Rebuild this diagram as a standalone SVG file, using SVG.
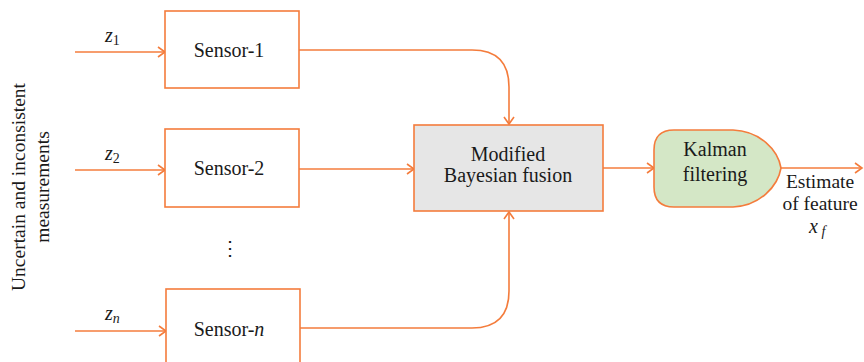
<svg xmlns="http://www.w3.org/2000/svg" width="864" height="362" viewBox="0 0 864 362">
<defs>
<style>
.box{fill:#ffffff;stroke:#f47c3c;stroke-width:1.6}
.fus{fill:#e6e6e6;stroke:#f47c3c;stroke-width:1.6}
.kal{fill:#d4e7c6;stroke:#f47c3c;stroke-width:1.6}
.ln{fill:none;stroke:#f47c3c;stroke-width:1.6}
text{font-family:"Liberation Serif","DejaVu Serif",serif;font-size:20px;fill:#1a1a1a}
.c{text-anchor:middle}
.it{font-style:italic}
.sub{font-size:14px}
.rot{font-size:19.5px}
.out{font-size:19.5px}
</style>
<marker id="ah" markerWidth="12" markerHeight="12" viewBox="0 0 12 12" refX="10" refY="6" orient="auto" markerUnits="userSpaceOnUse">
<path d="M3,1 L10,6 L3,11" fill="none" stroke="#f47c3c" stroke-width="1.6"/>
</marker>
</defs>
<rect width="864" height="362" fill="#ffffff"/>
<g id="connectors">
<line class="ln" x1="75" y1="52" x2="165" y2="52" marker-end="url(#ah)"/>
<line class="ln" x1="75" y1="170" x2="165" y2="170" marker-end="url(#ah)"/>
<line class="ln" x1="75" y1="331" x2="166" y2="331" marker-end="url(#ah)"/>
<path class="ln" d="M299,50 L472,50 Q509,50 509,87 L509,124" marker-end="url(#ah)"/>
<line class="ln" x1="299" y1="169" x2="414" y2="169" marker-end="url(#ah)"/>
<path class="ln" d="M300,328 L472,328 Q509,328 509,291 L509,212" marker-end="url(#ah)"/>
<line class="ln" x1="603" y1="168" x2="654" y2="168" marker-end="url(#ah)"/>
<line class="ln" x1="781" y1="168" x2="862" y2="168" marker-end="url(#ah)"/>
</g>
<g id="input-label">
<text class="c rot" transform="translate(25,187) rotate(-90)">Uncertain and inconsistent</text>
<text class="c rot" transform="translate(49,187) rotate(-90)">measurements</text>
</g>
<g id="z1"><text x="105" y="42"><tspan class="it">z</tspan><tspan class="sub" dy="3">1</tspan></text></g>
<g id="z2"><text x="105" y="160"><tspan class="it">z</tspan><tspan class="sub" dy="3">2</tspan></text></g>
<g id="zn"><text x="105" y="320"><tspan class="it">z</tspan><tspan class="sub it" dy="3">n</tspan></text></g>
<g id="sensor1">
<rect class="box" x="165" y="11" width="134" height="77"/>
<text class="c" x="229" y="57">Sensor-1</text>
</g>
<g id="sensor2">
<rect class="box" x="165" y="129" width="134" height="78"/>
<text class="c" x="229" y="175">Sensor-2</text>
</g>
<g id="dots">
<text class="c" x="230" y="255" style="font-family:'DejaVu Serif',serif">⋮</text>
</g>
<g id="sensorn">
<rect class="box" x="166" y="289" width="134" height="80"/>
<text class="c" x="229" y="336">Sensor-<tspan class="it">n</tspan></text>
</g>
<g id="fusion">
<rect class="fus" x="414" y="125" width="189" height="86"/>
<text class="c" x="508" y="161">Modified</text>
<text class="c" x="508" y="182">Bayesian fusion</text>
</g>
<g id="kalman">
<path class="kal" d="M674,130 L733,130 C760,131 778,150 781,168 C778,186 760,206 733,207 L674,207 Q654,207 654,187 L654,150 Q654,130 674,130 Z"/>
<text class="c" x="715" y="156">Kalman</text>
<text class="c" x="715" y="181">filtering</text>
</g>
<g id="output-label">
<text class="c out" x="820" y="188">Estimate</text>
<text class="c out" x="820" y="210">of feature</text>
<text x="809" y="233"><tspan class="it" style="font-size:20px">x</tspan><tspan class="sub it" dy="3"> f</tspan></text>
</g>
</svg>
